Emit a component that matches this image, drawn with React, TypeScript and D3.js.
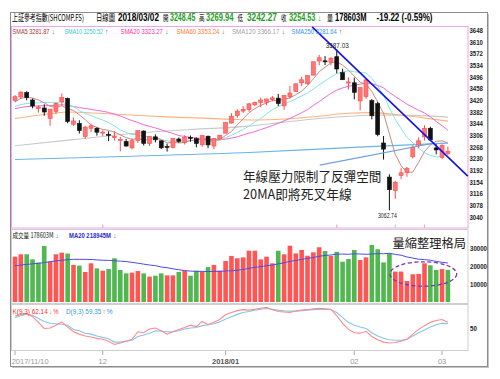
import React from "react";
import * as d3 from "d3";

// ---------- DATA ----------
const dates = [
  "2017/11/10","2017/11/13","2017/11/14","2017/11/15","2017/11/16","2017/11/17","2017/11/20","2017/11/21","2017/11/22","2017/11/23",
  "2017/11/24","2017/11/27","2017/11/28","2017/11/29","2017/11/30","2017/12/01","2017/12/04","2017/12/05","2017/12/06","2017/12/07",
  "2017/12/08","2017/12/11","2017/12/12","2017/12/13","2017/12/14","2017/12/15","2017/12/18","2017/12/19","2017/12/20","2017/12/21",
  "2017/12/22","2017/12/25","2017/12/26","2017/12/27","2017/12/28","2017/12/29","2018/01/02","2018/01/03","2018/01/04","2018/01/05",
  "2018/01/08","2018/01/09","2018/01/10","2018/01/11","2018/01/12","2018/01/15","2018/01/16","2018/01/17","2018/01/18","2018/01/19",
  "2018/01/22","2018/01/23","2018/01/24","2018/01/25","2018/01/26","2018/01/29","2018/01/30","2018/01/31","2018/02/01","2018/02/02",
  "2018/02/05","2018/02/06","2018/02/07","2018/02/08","2018/02/09","2018/02/12","2018/02/13","2018/02/14","2018/02/22","2018/02/23",
  "2018/02/26","2018/02/27","2018/02/28","2018/03/01","2018/03/02",
];
const opens = [
  3421,3432,3446,3422,3394,3396,3362,3385,3416,3427,
  3343,3346,3303,3330,3330,3316,3310,3300,3291,3287,
  3266,3290,3321,3280,3302,3289,3271,3268,3295,3284,
  3300,3296,3276,3304,3272,3295,3314,3347,3371,3386,
  3391,3406,3414,3415,3423,3428,3403,3433,3450,3478,
  3475,3503,3549,3549.5,3545,3563,3511,3477,3478,3419,
  3433,3420,3410,3282,3171,3127,3176,3186,3237,3275,
  3302,3330,3266,3235,3248.45,
];
const highs = [
  3438,3450,3450.49,3427,3405,3408,3393,3414,3443,3430,
  3365,3356,3338,3345,3333,3323,3320,3320,3302,3295,
  3297,3323,3323,3304,3310,3291,3280,3298,3300,3307,
  3306,3300,3307,3306,3298,3308,3349,3379,3392,3402,
  3412,3417,3430,3426,3435,3442,3438,3468,3476,3498,
  3502,3547,3569,3565,3562,3587.03,3524,3496,3495,3463,
  3492,3425,3416,3305,3180,3159,3200,3204,3274,3300,
  3340,3335,3278,3278,3269.94,
];
const lows = [
  3415,3425,3421,3395,3381,3371,3338,3376,3404,3346,
  3338,3313,3296,3318,3306,3305,3288,3290,3255,3270,
  3261,3282,3274,3272,3284,3262,3254,3264,3282,3277,
  3286,3268,3270,3265,3262,3294,3314,3345,3365,3380,
  3384,3403,3398,3405,3418,3402,3390,3426,3450,3467,
  3472,3502,3535,3536,3535,3509,3487,3456,3424,3388,
  3426,3359,3304,3228,3062.74,3100,3164,3172,3232,3265,
  3290,3288,3245,3230,3242.27,
];
const closes = [
  3432.67,3447.84,3429.55,3402.52,3399.25,3382.91,3392.40,3410.50,3430.46,3351.92,
  3353.82,3322.23,3333.66,3337.86,3317.19,3317.62,3309.62,3303.67,3293.96,3272.05,
  3289.45,3322.19,3280.81,3303.04,3292.44,3266.14,3267.92,3296.54,3287.61,3300.06,
  3297.06,3280.46,3306.12,3275.78,3296.38,3307.17,3348.33,3369.11,3385.71,3391.75,
  3409.48,3413.90,3421.83,3425.34,3428.94,3410.49,3436.59,3444.67,3474.75,3487.86,
  3501.36,3546.50,3559.47,3548.31,3558.13,3523.00,3488.01,3480.83,3446.98,3462.08,
  3487.50,3370.65,3309.26,3262.05,3129.85,3154.13,3184.96,3199.16,3268.56,3289.02,
  3329.57,3292.07,3259.41,3273.75,3254.53,
];
// closes of the 19 sessions before 2017/11/10 (for the moving averages)
const warmupCloses = [
  3378.47,3372.04,3381.79,3370.17,3378.65,3380.70,3388.25,3396.90,3407.57,3416.81,
  3390.34,3393.34,3395.91,3383.31,3371.74,3388.17,3413.57,3415.46,3427.79,
];
// volume, in millions
const volumes = [
  252000,265000,265000,237000,219000,311000,224000,265000,274000,269000,
  206000,202000,167000,215000,187000,174000,183000,243000,178000,159000,
  163000,172000,159000,141000,146000,159000,148000,148000,167000,174000,
  146000,174000,169000,194000,206000,174000,228000,256000,243000,248000,
  285000,285000,237000,252000,215000,285000,265000,313000,270000,289000,
  257000,276000,304000,283000,256000,279000,224000,239000,289000,233000,
  248000,317000,293000,220000,270000,169000,169000,117000,154000,156000,
  215000,204000,178000,183000,178603,
];
// volume MA20 for the first 19 sessions (older volumes are not on the chart)
const volMa20Early = [
  202000,205000,209000,212000,215000,219000,224000,228000,232000,235000,
  237000,237000,237000,236000,234000,232000,231000,229000,227000,
];
const kValues = [
  75.5,79,81,74,62,49,50,56,63,52,
  42,37,33,31,28,26,22,15,18,22,
  26,42,40,48,50,44,37,42,47,51,
  56,53,64,57,62,68,78,83,87,89,
  88,90,92,94,89,85,84,83,86,88,
  89,91,92,91,90,76,60,47,40,39,
  43,32,25,20,18,19,22,26,37,47,
  55,62,66,68,62.14,
];
const dValues = [
  72,76,79.5,77,70,64,60,59,58,56,
  47,44,39,37,33,30,27,20,20,22,
  24,32,35,39,44,43,42,42,44,48,
  50,51,55,57,59,63,69,74,79,83,
  85,88,90,91.5,90,88,86.5,86,86,87,
  88,89,89.5,90,89,83,72,62,56,52,
  49,40,33,28,25,24,24,26,33,40,
  46,52,57,60,59.35,
];
// long moving averages: [session index, value]
const sma60Pts: [number, number][] = [
  [0,3362],[5,3375],[9,3383],[15,3378],[20,3373],[26,3367],[32,3363],[37,3359],
  [41,3357],[46,3360],[52,3369],[57,3379],[61,3381],[65,3375],[69,3366],[74,3353.24],
];
const sma120Pts: [number, number][] = [
  [0,3273],[10,3293],[20,3313],[30,3326],[40,3337],[46,3350],[52,3362],[58,3370],
  [62,3373],[68,3372],[74,3366.17],
];
const sma250Pts: [number, number][] = [
  [0,3228],[20,3239],[40,3251],[57,3267],[74,3281.64],
];
const priceTicks = [3648,3610,3572,3534,3496,3458,3420,3382,3344,3306,3268,3230,3192,3154,3116,3078,3040];
const volTicks = [100000, 200000, 300000];
const kdTicks = [50];
const xTickIdx = [0, 15, 36, 58, 73];
const xTickText = ["2017/11/10", "12", "2018/01", "02", "03"];
const markerIdx = [15, 55, 65, 70];

// annotations in data coordinates
const trendLine = [{ i: 50.8, v: 3660 }, { i: 77.4, v: 3174 }];
const pointerLine = [{ i: 52.1, v: 3210 }, { i: 71.5, v: 3281 }];

const CJK = "'Noto Sans CJK TC','Noto Sans CJK SC',sans-serif";
const LAT = "'Liberation Sans Narrow','Liberation Sans',Arial,sans-serif";
const GREEN = "#1f9e1f";
const RED = "#ee2020";

// text fitted horizontally into [x0, x1] by scaling (keeps its box exact)
function T(props: any) {
  const { x0, x1, y, t, size = 9, color = "#000", bold = false, family = LAT } = props;
  const ref = React.useRef<SVGTextElement>(null);
  const [sx, setSx] = React.useState(1);
  React.useLayoutEffect(() => {
    const el = ref.current;
    if (el) {
      const w = el.getComputedTextLength();
      if (w > 0) setSx((x1 - x0) / w);
    }
  }, [x0, x1, t, size, family]);
  return (
    <text
      ref={ref}
      transform={`translate(${x0},${y}) scale(${sx},1)`}
      x={0}
      y={0}
      fontSize={size}
      fill={color}
      fontWeight={bold ? "bold" : "normal"}
      fontFamily={family}
    >
      {t}
    </text>
  );
}

export default function App() {
  const n = closes.length;
  const x = d3.scaleLinear().domain([0, n - 1]).range([15, 447.9]);
  const y = d3.scaleLinear().domain([3040, 3648]).range([217.3, 30.6]);
  const yv = d3.scaleLinear().domain([0, 300000]).range([302, 248]);
  const yk = d3.scaleLinear().domain([0, 100]).range([351.5, 304.5]);

  const W0 = warmupCloses.length;
  const all = warmupCloses.concat(closes);
  const sma = (p: number) => closes.map((_, i) => d3.mean(all.slice(i + W0 - p + 1, i + W0 + 1)) as number);
  const sma5 = sma(5), sma10 = sma(10), sma20 = sma(20);

  const volMa20 = volumes.map((_, i) =>
    i < 19 ? volMa20Early[i] : (d3.mean(volumes.slice(i - 19, i + 1)) as number)
  );

  const priceLine = d3.line<number>().x((_, i) => x(i)).y((d) => y(d));
  const ptsLine = d3.line<[number, number]>().x((d) => x(d[0])).y((d) => y(d[1])).curve(d3.curveMonotoneX);
  const volLine = d3.line<number>().x((_, i) => x(i)).y((d) => yv(d));
  const kdLine = d3.line<number>().x((_, i) => x(i)).y((d) => yk(d));

  const prevClose = (i: number) => (i === 0 ? warmupCloses[W0 - 1] : closes[i - 1]);

  const bodyW = 4;
  const volW = 4.6;

  const iHigh = highs.indexOf(d3.max(highs) as number);
  const iLow = lows.indexOf(d3.min(lows) as number);

  const ell = { i: 69.8, v: 155600 };
  const f2 = d3.format(".2f");

  return (
    <svg width={500} height={379} style={{ position: "absolute", left: 0, top: 0, background: "#fff" }}>
      <rect x={0} y={0} width={500} height={379} fill="#fff" />
      {/* outer frame */}
      <line x1={488.5} y1={14} x2={488.5} y2={368} stroke="#c4c4c4" />
      <line x1={12} y1={367.5} x2={488.5} y2={367.5} stroke="#c4c4c4" />
      <rect x={10.5} y={12.5} width={477} height={354} fill="#fff" stroke="#8c8c8c" />

      {/* title */}
      <T x0={12} x1={84} y={20.5} t="上証參考指數(SHCOMP.FS)" size={9} family={CJK} />
      <T x0={96} x1={115} y={20.5} t="日線圖" size={9} family={CJK} />
      <T x0={118} x1={159} y={20.5} t="2018/03/02" size={10} bold />
      <T x0={163} x1={168.5} y={20.5} t="開" size={8.5} family={CJK} />
      <T x0={170} x1={195.5} y={20.5} t="3248.45" size={10} bold color={GREEN} />
      <T x0={199} x1={204.5} y={20.5} t="高" size={8.5} family={CJK} />
      <T x0={206} x1={233.5} y={20.5} t="3269.94" size={10} bold color={GREEN} />
      <T x0={237.5} x1={243} y={20.5} t="低" size={8.5} family={CJK} />
      <T x0={247} x1={277} y={20.5} t="3242.27" size={10} bold color={GREEN} />
      <T x0={281} x1={286.5} y={20.5} t="收" size={8.5} family={CJK} />
      <T x0={289} x1={315.5} y={20.5} t="3254.53" size={10} bold color={GREEN} />
      <T x0={317.5} x1={321.5} y={20.5} t="↓" size={9} bold color={GREEN} />
      <T x0={327} x1={333} y={20.5} t="量" size={8.5} family={CJK} />
      <T x0={335} x1={366.5} y={20.5} t="178603M" size={10} bold />
      <T x0={376.5} x1={432.5} y={20.5} t="-19.22 (-0.59%)" size={10} bold />

      {/* main panel */}
      <rect x={11.5} y={26.5} width={456.5} height={201.5} fill="none" stroke="#f2a2ee" />
      {markerIdx.map((m, k) => (
        <line key={"mk" + k} x1={x(m)} x2={x(m)} y1={224.5} y2={228} stroke={k === 2 ? "#9fe0e0" : "#f2a2d8"} strokeWidth={1.2} />
      ))}

      {/* moving averages (behind candles) */}
      <path d={ptsLine(sma250Pts) || ""} fill="none" stroke="#6ab3ec" strokeWidth={1.1} />
      <path d={ptsLine(sma120Pts) || ""} fill="none" stroke="#c9c9c9" strokeWidth={1.1} />
      <path d={ptsLine(sma60Pts) || ""} fill="none" stroke="#ffb27c" strokeWidth={1.1} />
      <path d={priceLine(sma20) || ""} fill="none" stroke="#f06ad2" strokeWidth={1} />
      <path d={priceLine(sma10) || ""} fill="none" stroke="#80e6e6" strokeWidth={1} />
      <path d={priceLine(sma5) || ""} fill="none" stroke="#c98a82" strokeWidth={1} />

      {/* candles */}
      {closes.map((c, i) => {
        const o = opens[i];
        const up = c >= o;
        const col = up ? "#ff4a4a" : "#111";
        const top = y(Math.max(o, c));
        const bot = y(Math.min(o, c));
        return (
          <g key={"c" + i}>
            <line x1={x(i)} x2={x(i)} y1={y(highs[i])} y2={y(lows[i])} stroke={col} strokeWidth={1} />
            <rect
              x={x(i) - bodyW / 2}
              y={top}
              width={bodyW}
              height={Math.max(1, bot - top)}
              fill={up ? "#ff7676" : "#111"}
              stroke={col}
              strokeWidth={0.6}
            />
          </g>
        );
      })}

      {/* annotations */}
      <line x1={x(pointerLine[0].i)} y1={y(pointerLine[0].v)} x2={x(pointerLine[1].i)} y2={y(pointerLine[1].v)} stroke="#6f9fd6" strokeWidth={1.1} />
      <line x1={x(trendLine[0].i)} y1={y(trendLine[0].v)} x2={x(trendLine[1].i)} y2={y(trendLine[1].v)} stroke="#1414e6" strokeWidth={1.6} />
      <T x0={x(iHigh) - 11} x1={x(iHigh) + 12} y={y(highs[iHigh]) - 1.5} t={f2(highs[iHigh])} size={8} color="#222" />
      <T x0={x(iLow) - 11.5} x1={x(iLow) + 7.5} y={y(lows[iLow]) + 7.5} t={f2(lows[iLow])} size={8} color="#222" />
      <T x0={243} x1={381.5} y={181} t="年線壓力限制了反彈空間" size={13} family={CJK} color="#222" />
      <T x0={243} x1={352} y={198.5} t="20MA即將死叉年線" size={13} family={CJK} color="#222" />

      {/* legend */}
      <T x0={12.5} x1={49.5} y={34} t="SMA5 3281.87" size={7} color="#a83232" />
      <T x0={51.5} x1={55} y={34} t="↓" size={7} bold color={GREEN} />
      <T x0={64.5} x1={103} y={34} t="SMA10 3250.52" size={7} color="#2ccaca" />
      <T x0={105} x1={108.5} y={34} t="↑" size={7} bold color={RED} />
      <T x0={120.5} x1={163} y={34} t="SMA20 3323.27" size={7} color="#ff2ca6" />
      <T x0={165} x1={168.5} y={34} t="↓" size={7} bold color={GREEN} />
      <T x0={176.5} x1={219.5} y={34} t="SMA60 3353.24" size={7} color="#ff7a33" />
      <T x0={221.5} x1={225} y={34} t="↓" size={7} bold color={GREEN} />
      <T x0={232} x1={279.5} y={34} t="SMA120 3366.17" size={7} color="#a0a0a0" />
      <T x0={281.5} x1={285} y={34} t="↓" size={7} bold color={GREEN} />
      <T x0={291.5} x1={337} y={34} t="SMA250 3281.64" size={7} color="#2f95f5" />
      <T x0={339} x1={342.5} y={34} t="↑" size={7} bold color={RED} />

      {/* price axis */}
      {priceTicks.map((p) => (
        <T key={"p" + p} x0={469.5} x1={483} y={y(p) + 2.5} t={String(p)} size={7} bold color="#222" />
      ))}

      {/* volume panel */}
      <rect x={11.5} y={229.5} width={456.5} height={74} fill="none" stroke="#cfcfcf" />
      {volumes.map((v, i) => (
        <rect
          key={"v" + i}
          x={x(i) - volW / 2}
          y={yv(v)}
          width={volW}
          height={yv(0) - yv(v)}
          fill={closes[i] >= prevClose(i) ? "#ff5555" : "#4fb84f"}
        />
      ))}
      <path d={volLine(volMa20) || ""} fill="none" stroke="#4b4be6" strokeWidth={1} />
      <ellipse
        cx={x(ell.i)}
        cy={yv(ell.v)}
        rx={x(ell.i + 5.7) - x(ell.i)}
        ry={yv(0) - yv(67800)}
        fill="none"
        stroke="#7a35b0"
        strokeWidth={1.3}
        strokeDasharray="4,2.5"
      />
      <T x0={392.5} x1={466} y={247.5} t="量縮整理格局" size={12.5} family={CJK} color="#222" />
      <T x0={12.5} x1={53.5} y={238} t="成交量 178603M" size={7} family={CJK} color="#111" />
      <T x0={55.5} x1={59} y={238} t="↓" size={7} bold color={GREEN} />
      <T x0={69} x1={111} y={238} t="MA20 218945M" size={7} bold color="#2a2ad6" />
      <T x0={113} x1={116.5} y={238} t="↓" size={7} bold color={GREEN} />
      {volTicks.map((v) => (
        <T key={"vt" + v} x0={470} x1={487} y={yv(v) + 2.5} t={String(v / 10)} size={7} bold color="#222" />
      ))}

      {/* KD panel */}
      <rect x={11.5} y={304.5} width={456.5} height={46} fill="none" stroke="#cfcfcf" />
      <path d={kdLine(dValues) || ""} fill="none" stroke="#86c4ee" strokeWidth={1.1} />
      <path d={kdLine(kValues) || ""} fill="none" stroke="#ff8a8a" strokeWidth={1.1} />
      <T x0={12.5} x1={47.8} y={314} t="K(9,3) 62.14" size={7} color="#ff3030" />
      <T x0={49.3} x1={52} y={314} t="↓" size={7} bold color={GREEN} />
      <T x0={53.2} x1={58.5} y={314} t="%" size={7} color="#ff3030" />
      <T x0={66} x1={101.3} y={314} t="D(9,3) 59.35" size={7} color="#3399dd" />
      <T x0={102.7} x1={105.4} y={314} t="↑" size={7} bold color={RED} />
      <T x0={106.6} x1={112.7} y={314} t="%" size={7} color="#3399dd" />
      {kdTicks.map((k) => (
        <T key={"k" + k} x0={470} x1={476.8} y={yk(k) + 2.5} t={String(k)} size={7} bold color="#222" />
      ))}

      {/* time axis */}
      {xTickIdx.map((idx, k) => (
        <g key={"xt" + k}>
          <line x1={x(idx)} x2={x(idx)} y1={351} y2={355} stroke="#aaa" />
          <text
            x={k === 0 ? 11.7 : x(idx)}
            y={363.5}
            fontSize={7.5}
            fontFamily={LAT}
            fill={k === 2 ? "#555" : "#999"}
            fontWeight={k === 2 ? "bold" : "normal"}
            textAnchor={k === 0 ? "start" : "middle"}
          >
            {xTickText[k]}
          </text>
        </g>
      ))}
    </svg>
  );
}
